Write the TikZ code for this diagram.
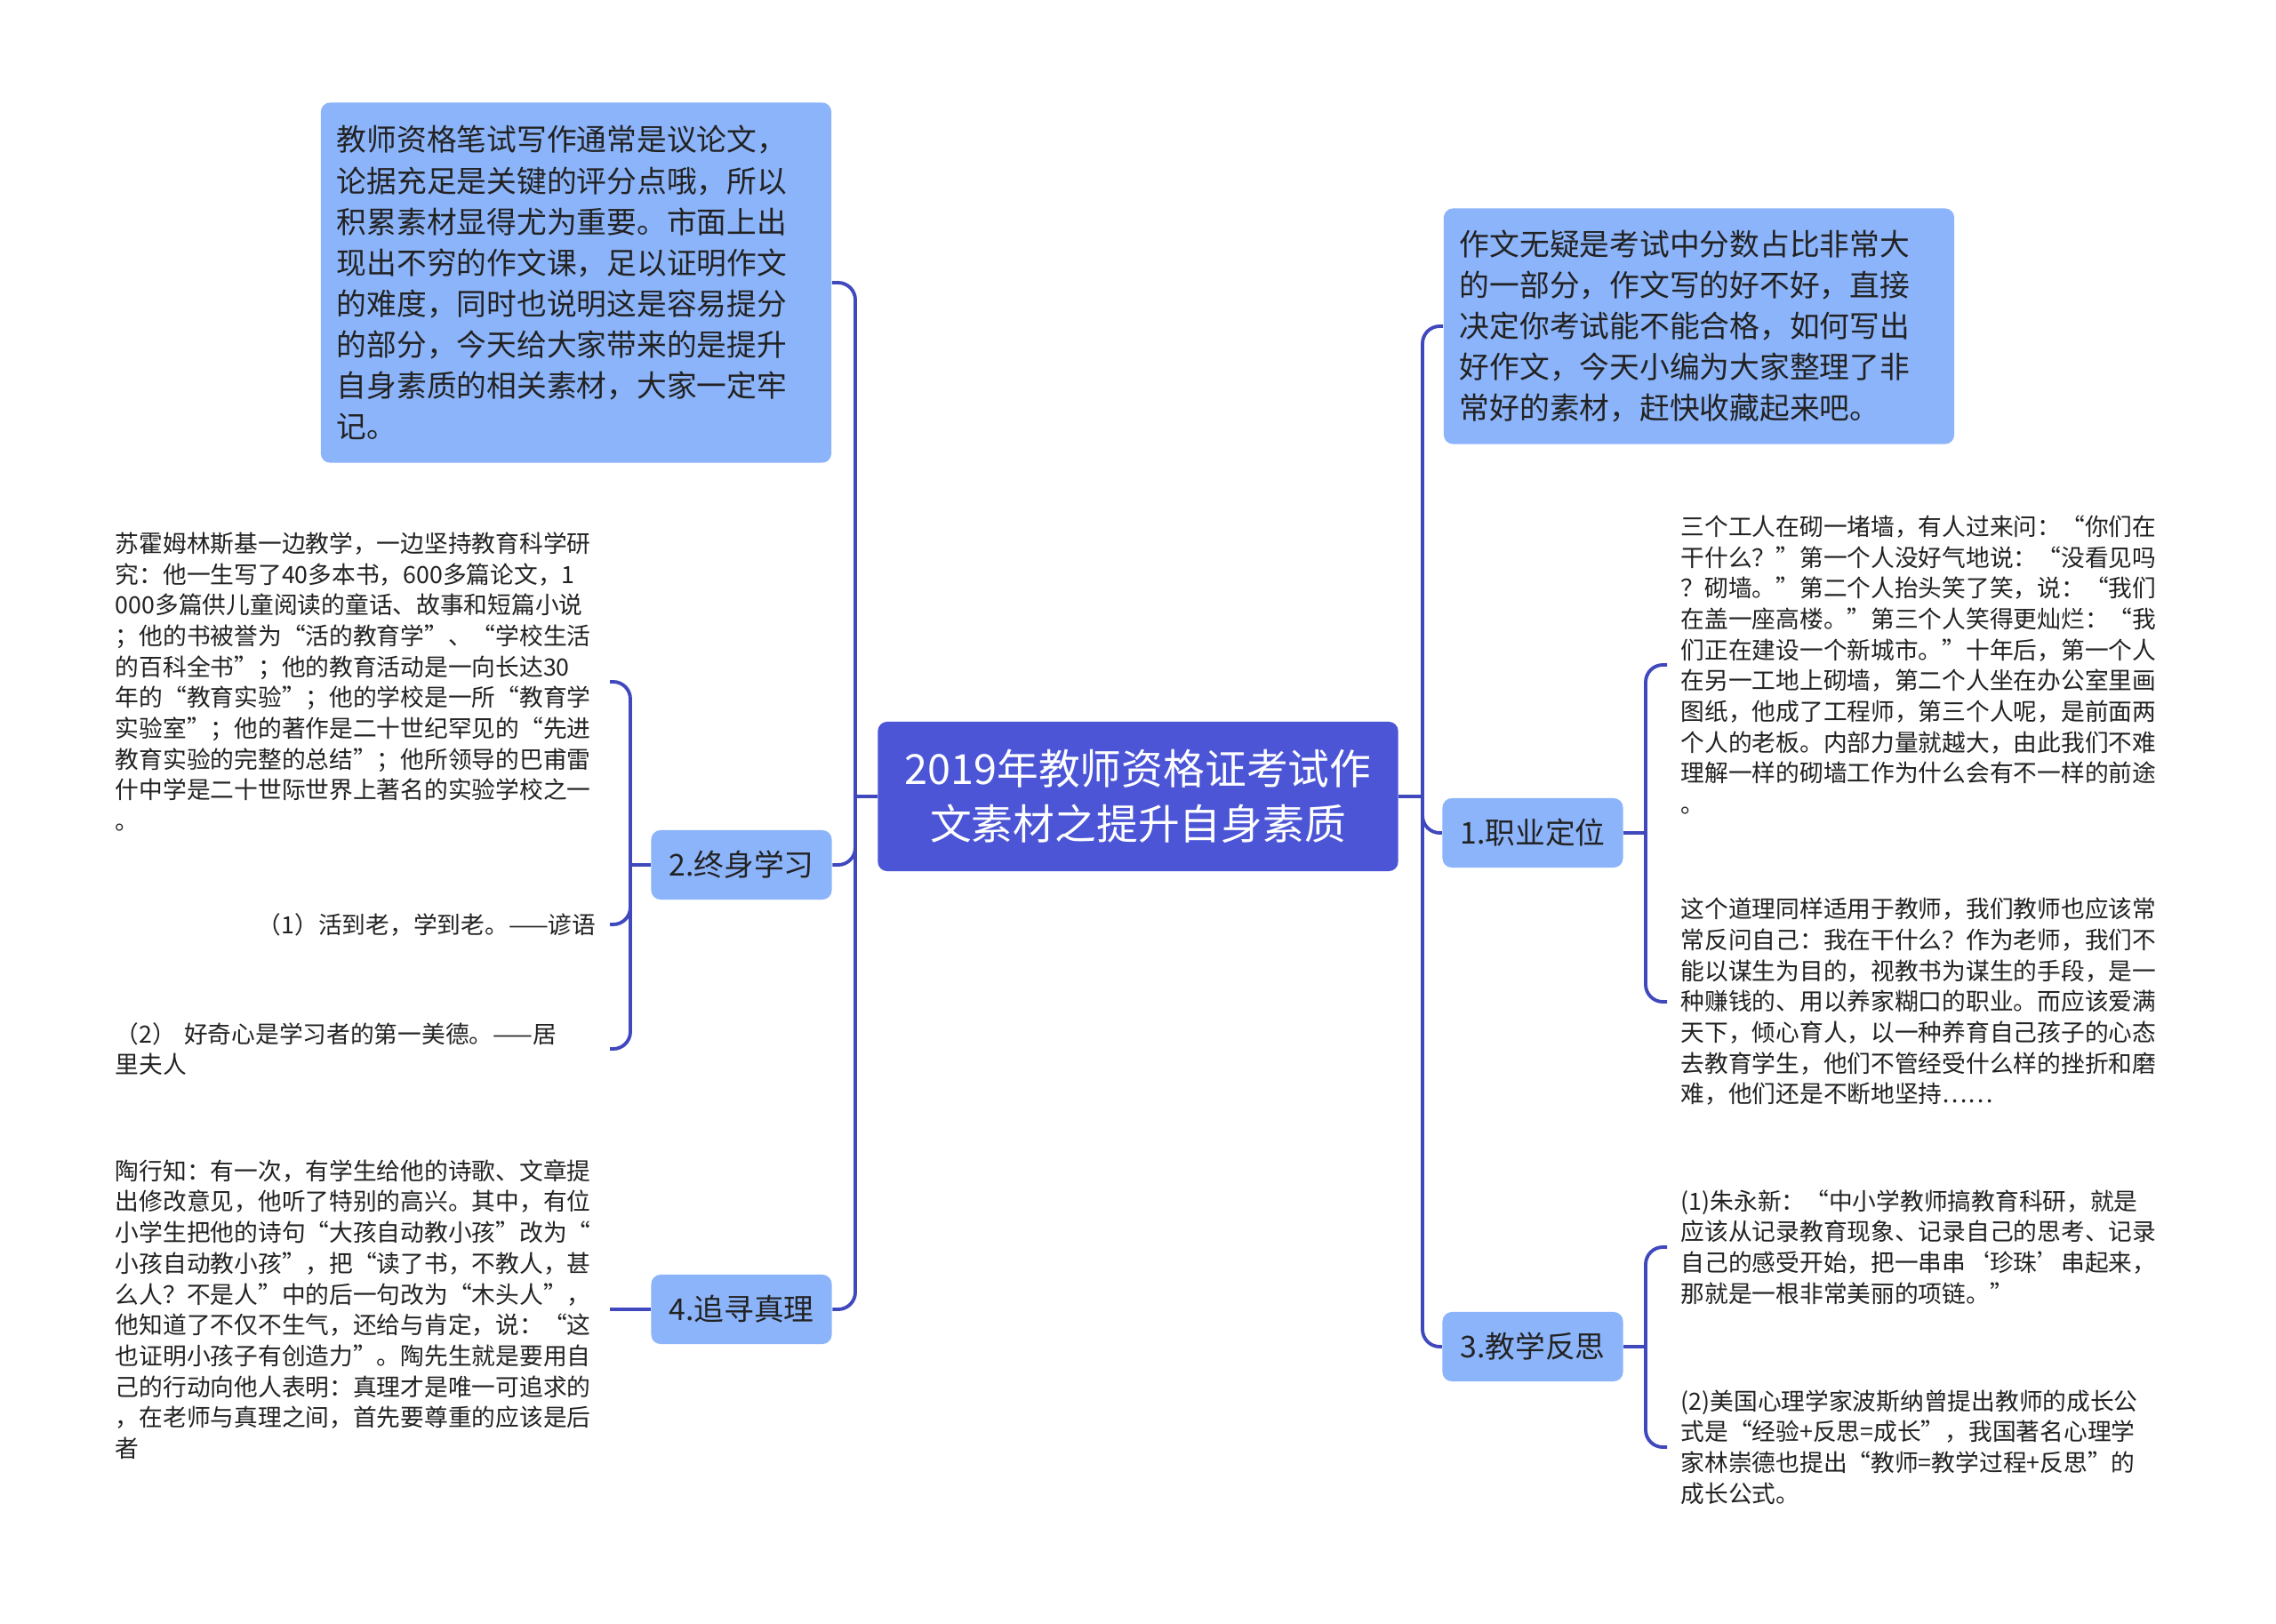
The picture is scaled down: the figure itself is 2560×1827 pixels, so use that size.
\documentclass[tikz,border=0pt]{standalone}
\usepackage{fontspec}
\setmainfont{Noto Sans CJK SC}
\usepackage{tikz}
\usetikzlibrary{calc}
\definecolor{rootblue}{HTML}{4B55D6}
\definecolor{boxblue}{HTML}{8CB4FA}
\definecolor{linkblue}{HTML}{4048BE}
\definecolor{txtgray}{HTML}{222222}

\begin{document}
\begin{tikzpicture}[x=0.01cm,y=-0.01cm,
    link/.style={draw=linkblue,line width=1.1pt,rounded corners=5.5pt},
    rootbox/.style={fill=rootblue,rounded corners=3pt,text=white,align=center,
        minimum width=5.85cm,minimum height=1.68cm,font=\fontsize{13.3pt}{17.6pt}\selectfont},
    notebox/.style={fill=boxblue,rounded corners=3pt,text=txtgray,align=left,
        text width=5.38cm,inner xsep=0.18cm,font=\fontsize{9.6pt}{13.1pt}\selectfont},
    topicbox/.style={fill=boxblue,rounded corners=3pt,text=txtgray,
        minimum width=2.03cm,minimum height=0.78cm,font=\fontsize{9.6pt}{13.1pt}\selectfont},
    leaf/.style={text=txtgray,inner xsep=0.15cm,inner ysep=0pt,
        font=\fontsize{7.6pt}{9.86pt}\selectfont},
    leafblock/.style={leaf,align=left,text width=5.4cm}]
    % полотно
    \fill[white] (0,0) rectangle (2560,1827);

    % вертикальні лінії
    \coordinate (lx) at (962,0);
    \coordinate (rx) at (1600,0);
    \coordinate (k2x) at (709,0);
    \coordinate (kx) at (1851,0);

    % центр
    \node[rootbox] (root) at (1280,896) {2019年教师资格证考试作\\文素材之提升自身素质};

    % ліва гілка
    \node[notebox,minimum height=4.05cm] (intro) at (648,318) {教师资格笔试写作通常是议论文，\\论据充足是关键的评分点哦，所以\\积累素材显得尤为重要。市面上出\\现出不穷的作文课，足以证明作文\\的难度，同时也说明这是容易提分\\的部分，今天给大家带来的是提升\\自身素质的相关素材，大家一定牢\\记。};
    \node[topicbox] (b2) at (834,973) {2.终身学习};
    \node[topicbox] (b4) at (834,1473) {4.追寻真理};

    \node[leafblock,anchor=east] (su) at (686,767) {苏霍姆林斯基一边教学，一边坚持教育科学研\\究：他一生写了40多本书，600多篇论文，1\\000多篇供儿童阅读的童话、故事和短篇小说\\；他的书被誉为“活的教育学”、“学校生活\\的百科全书”；他的教育活动是一向长达30\\年的“教育实验”；他的学校是一所“教育学\\实验室”；他的著作是二十世纪罕见的“先进\\教育实验的完整的总结”；他所领导的巴甫雷\\什中学是二十世际世界上著名的实验学校之一\\。};
    \node[leaf,anchor=east] (q1) at (686,1040) {（1）活到老，学到老。——谚语};
    \node[leafblock,anchor=east] (q2) at (686,1180) {（2） 好奇心是学习者的第一美德。——居\\里夫人};
    \node[leafblock,anchor=east] (tao) at (686,1473) {陶行知：有一次，有学生给他的诗歌、文章提\\出修改意见，他听了特别的高兴。其中，有位\\小学生把他的诗句“大孩自动教小孩”改为“\\小孩自动教小孩”，把“读了书，不教人，甚\\么人？不是人”中的后一句改为“木头人”，\\他知道了不仅不生气，还给与肯定，说：“这\\也证明小孩子有创造力”。陶先生就是要用自\\己的行动向他人表明：真理才是唯一可追求的\\，在老师与真理之间，首先要尊重的应该是后\\者};

    % права гілка
    \node[notebox,minimum height=2.65cm] (summary) at (1911,367) {作文无疑是考试中分数占比非常大\\的一部分，作文写的好不好，直接\\决定你考试能不能合格，如何写出\\好作文，今天小编为大家整理了非\\常好的素材，赶快收藏起来吧。};
    \node[topicbox] (b1) at (1724,937) {1.职业定位};
    \node[topicbox] (b3) at (1724,1515) {3.教学反思};

    \node[leafblock,anchor=west] (wall) at (1875,748) {三个工人在砌一堵墙，有人过来问：“你们在\\干什么？”第一个人没好气地说：“没看见吗\\？砌墙。”第二个人抬头笑了笑，说：“我们\\在盖一座高楼。”第三个人笑得更灿烂：“我\\们正在建设一个新城市。”十年后，第一个人\\在另一工地上砌墙，第二个人坐在办公室里画\\图纸，他成了工程师，第三个人呢，是前面两\\个人的老板。内部力量就越大，由此我们不难\\理解一样的砌墙工作为什么会有不一样的前途\\。};
    \node[leafblock,anchor=west] (teach) at (1875,1127) {这个道理同样适用于教师，我们教师也应该常\\常反问自己：我在干什么？作为老师，我们不\\能以谋生为目的，视教书为谋生的手段，是一\\种赚钱的、用以养家糊口的职业。而应该爱满\\天下，倾心育人，以一种养育自己孩子的心态\\去教育学生，他们不管经受什么样的挫折和磨\\难，他们还是不断地坚持……};
    \node[leafblock,anchor=west] (zhu) at (1875,1403) {(1)朱永新：“中小学教师搞教育科研，就是\\应该从记录教育现象、记录自己的思考、记录\\自己的感受开始，把一串串‘珍珠’串起来，\\那就是一根非常美丽的项链。”};
    \node[leafblock,anchor=west] (posner) at (1875,1628) {(2)美国心理学家波斯纳曾提出教师的成长公\\式是“经验+反思=成长”，我国著名心理学\\家林崇德也提出“教师=教学过程+反思”的\\成长公式。};

    % з'єднання
    \coordinate (jl) at (root.west -| lx);
    \coordinate (jr) at (root.east -| rx);
    \draw[link] (root.west) -- (jl);
    \draw[link] (jl) |- (intro.east);
    \draw[link] (jl) |- (b2.east);
    \draw[link] (jl) |- (b4.east);
    \draw[link] (root.east) -- (jr);
    \draw[link] (jr) |- (summary.west);
    \draw[link] (jr) |- (b1.west);
    \draw[link] (jr) |- (b3.west);

    \coordinate (j2) at (b2.west -| k2x);
    \draw[link] (b2.west) -- (j2);
    \draw[link] (j2) |- (su.east);
    \draw[link] (j2) |- (q1.east);
    \draw[link] (j2) |- (q2.east);
    \draw[link] (b4.west) -- (tao.east);

    \coordinate (j1) at (b1.east -| kx);
    \draw[link] (b1.east) -- (j1);
    \draw[link] (j1) |- (wall.west);
    \draw[link] (j1) |- (teach.west);
    \coordinate (j3) at (b3.east -| kx);
    \draw[link] (b3.east) -- (j3);
    \draw[link] (j3) |- (zhu.west);
    \draw[link] (j3) |- (posner.west);
\end{tikzpicture}
\end{document}
